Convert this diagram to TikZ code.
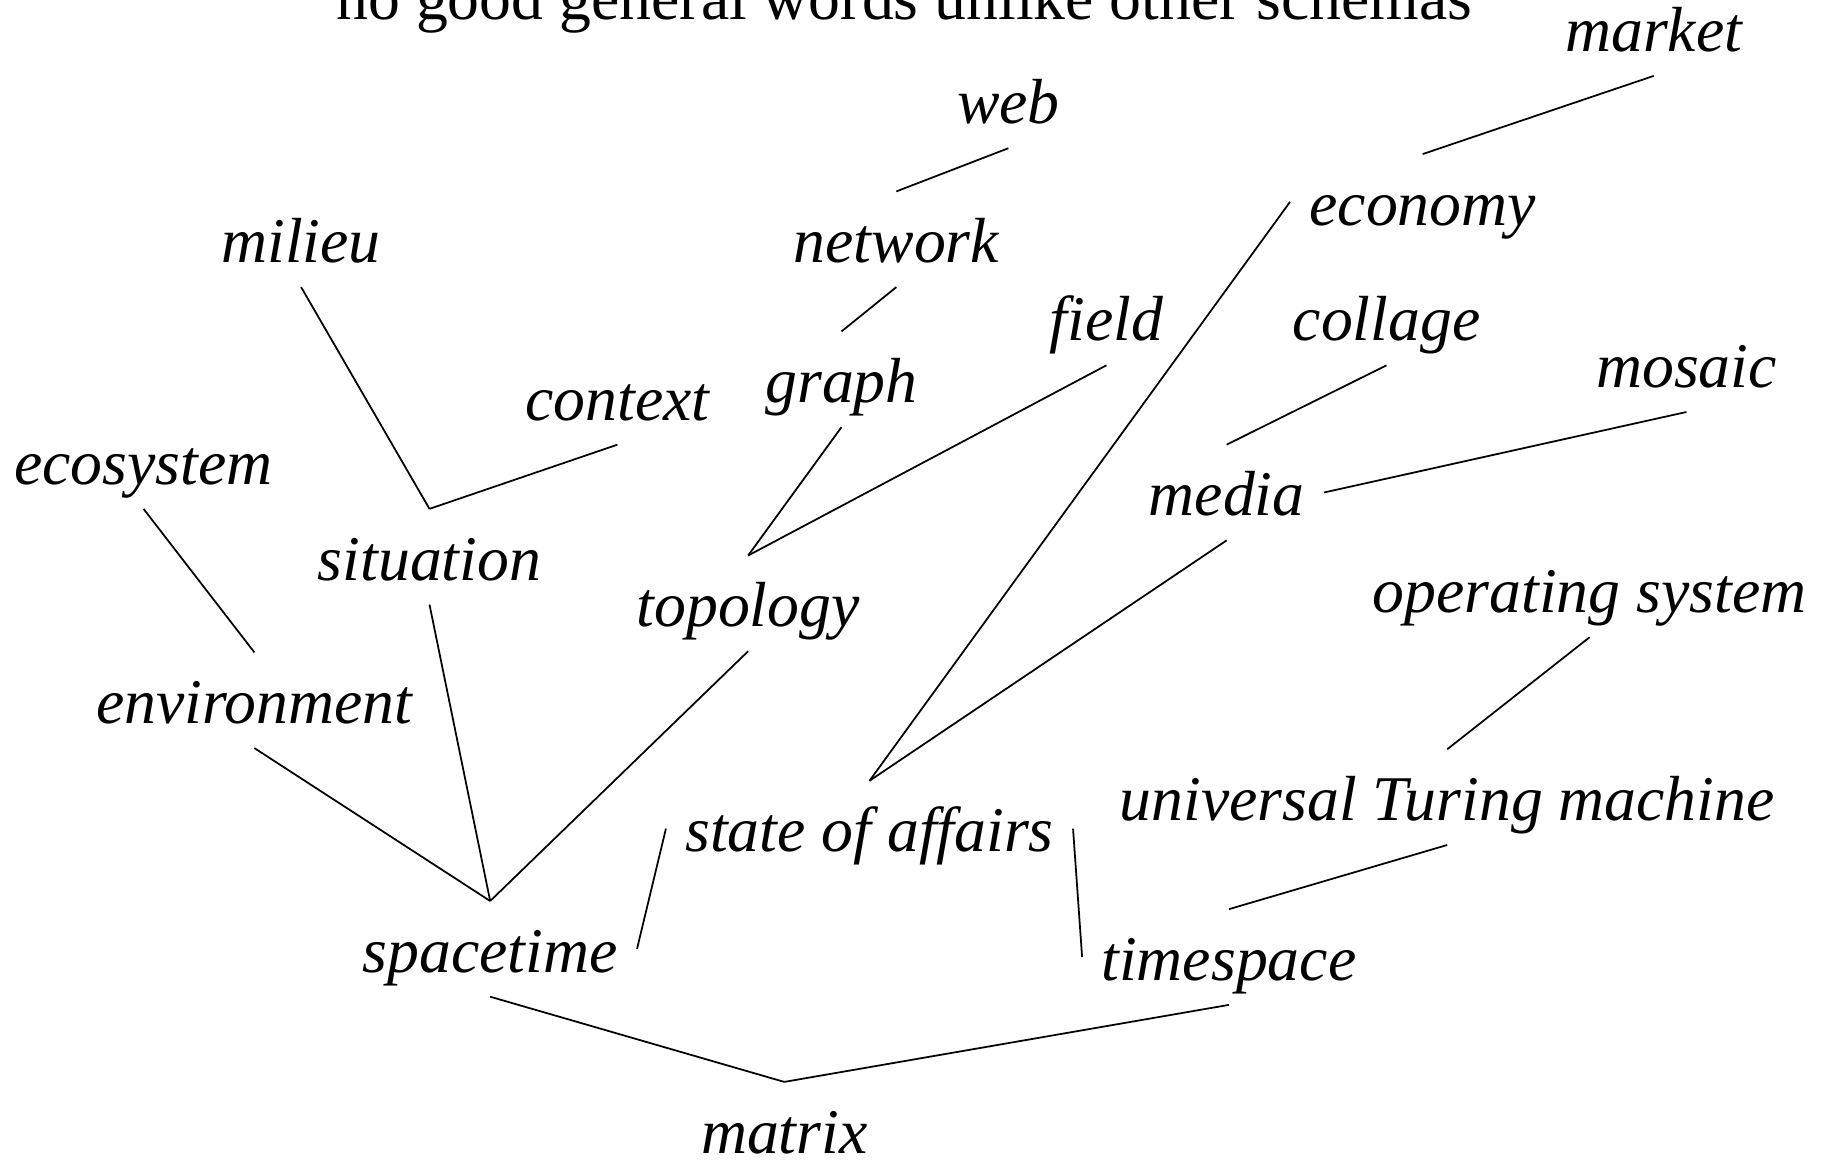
\documentclass[tikz,border=0pt]{standalone}
\usepackage{fontspec}
\setmainfont{Liberation Serif}
\begin{document}
\begin{tikzpicture}[x=0.3pt,y=-0.3pt,
  word/.style={font=\fontsize{16.38pt}{20pt}\selectfont\itshape, inner xsep=5pt, inner ysep=0pt,
    text height=18.3pt, text depth=6.3pt, outer sep=0pt},
  link/.style={line width=0.45pt}]
\useasboundingbox (0,0) rectangle (1568,996);
% heading, partly cut off by the page edge
\node[font=\fontsize{16.38pt}{20pt}\selectfont, anchor=base, inner sep=0pt] (head) at (775,17) {no good general words unlike other schemas};
% terms
\node[word] (market) at (1417,24) {market};
\node[word] (web) at (864,86) {web};
\node[word] (economy) at (1219,173) {economy};
\node[word] (milieu) at (258,205) {milieu};
\node[word] (network) at (768,205) {network};
\node[word] (field) at (948,272) {field};
\node[word] (collage) at (1188,272) {collage};
\node[word] (mosaic) at (1445,312) {mosaic};
\node[word] (graph) at (721,325) {graph};
\node[word] (context) at (529,340) {context};
\node[word] (ecosystem) at (123,395) {ecosystem};
\node[word] (media) at (1051,422) {media};
\node[word] (situation) at (368,477) {situation};
\node[word] (opsys) at (1362,505) {operating system};
\node[word] (topology) at (641,517) {topology};
\node[word] (environment) at (218,600) {environment};
\node[word] (utm) at (1240,683) {universal Turing machine};
\node[word] (state) at (745,710) {state of affairs};
\node[word] (spacetime) at (420,813) {spacetime};
\node[word] (timespace) at (1053,820) {timespace};
\node[word] (matrix) at (672,968) {matrix};
% connections
\draw[link] (market.south) -- (economy.north);
\draw[link] (web.south) -- (network.north);
\draw[link] (network.south) -- (graph.north);
\draw[link] (milieu.south) -- (situation.north);
\draw[link] (context.south) -- (situation.north);
\draw[link] (graph.south) -- (topology.north);
\draw[link] (field.south) -- (topology.north);
\draw[link] (collage.south) -- (media.north);
\draw[link] (mosaic.south) -- (media.east);
\draw[link] (economy.west) -- (state.north);
\draw[link] (media.south) -- (state.north);
\draw[link] (ecosystem.south) -- (environment.north);
\draw[link] (opsys.south) -- (utm.north);
\draw[link] (environment.south) -- (spacetime.north);
\draw[link] (situation.south) -- (spacetime.north);
\draw[link] (topology.south) -- (spacetime.north);
\draw[link] (state.west) -- (spacetime.east);
\draw[link] (state.east) -- (timespace.west);
\draw[link] (utm.south) -- (timespace.north);
\draw[link] (spacetime.south) -- (matrix.north);
\draw[link] (timespace.south) -- (matrix.north);
\end{tikzpicture}
\end{document}
